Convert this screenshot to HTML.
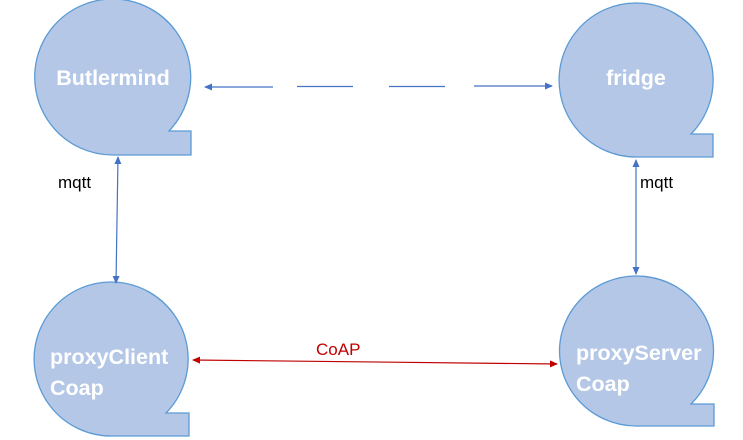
<!DOCTYPE html>
<html><head><style>body{margin:0;background:#fff}</style></head><body>
<svg width="743" height="440" xmlns="http://www.w3.org/2000/svg" style="display:block">
<defs>
<marker id="b" markerWidth="8" markerHeight="8" refX="7" refY="4" orient="auto-start-reverse" markerUnits="userSpaceOnUse"><path d="M0,0.5 L8,4 L0,7.5z" fill="#4472c4"/></marker>
<marker id="r" markerWidth="8" markerHeight="8" refX="7" refY="4" orient="auto-start-reverse" markerUnits="userSpaceOnUse"><path d="M0,0.5 L8,4 L0,7.5z" fill="#c00000"/></marker>
</defs>
<g fill="#b4c7e7" stroke="#5b9bd5" stroke-width="1.3">
<path d="M113,155 A78,78 0 1 1 169,131 L191,131 L191,155 Z"/>
<path d="M636,157 A77,77 0 1 1 691,134 L713,134 L713,157 Z"/>
<path d="M111,436 A77,77 0 1 1 166,413 L189,413 L189,436 Z"/>
<path d="M636,426 A77,75 0 1 1 691,404 L714,404 L714,426 Z"/>
</g>
<g fill="#fff" font-family="'Liberation Sans',sans-serif" font-size="21.5" font-weight="bold">
<text x="113" y="85" text-anchor="middle">Butlermind</text>
<text x="636" y="85" text-anchor="middle">fridge</text>
<text x="50" y="364">proxyClient</text>
<text x="50" y="395">Coap</text>
<text x="576" y="360">proxyServer</text>
<text x="576" y="391">Coap</text>
</g>
<g stroke="#4472c4" stroke-width="1.2" fill="none">
<line x1="273" y1="87" x2="205" y2="87" marker-end="url(#b)"/>
<line x1="297" y1="86.5" x2="353" y2="86.5"/>
<line x1="389" y1="86.5" x2="445" y2="86.5"/>
<line x1="474" y1="86" x2="552" y2="86" marker-end="url(#b)"/>
<line x1="118" y1="157" x2="116" y2="283" marker-start="url(#b)" marker-end="url(#b)"/>
<line x1="636" y1="160" x2="636" y2="274" marker-start="url(#b)" marker-end="url(#b)"/>
</g>
<line x1="193" y1="360" x2="557" y2="364" stroke="#c00000" stroke-width="1.2" marker-start="url(#r)" marker-end="url(#r)"/>
<g font-family="'Liberation Sans',sans-serif" font-size="17">
<text x="58" y="188" fill="#000">mqtt</text>
<text x="640" y="188" fill="#000">mqtt</text>
<text x="316" y="355" fill="#c00000">CoAP</text>
</g>
</svg>
</body></html>
